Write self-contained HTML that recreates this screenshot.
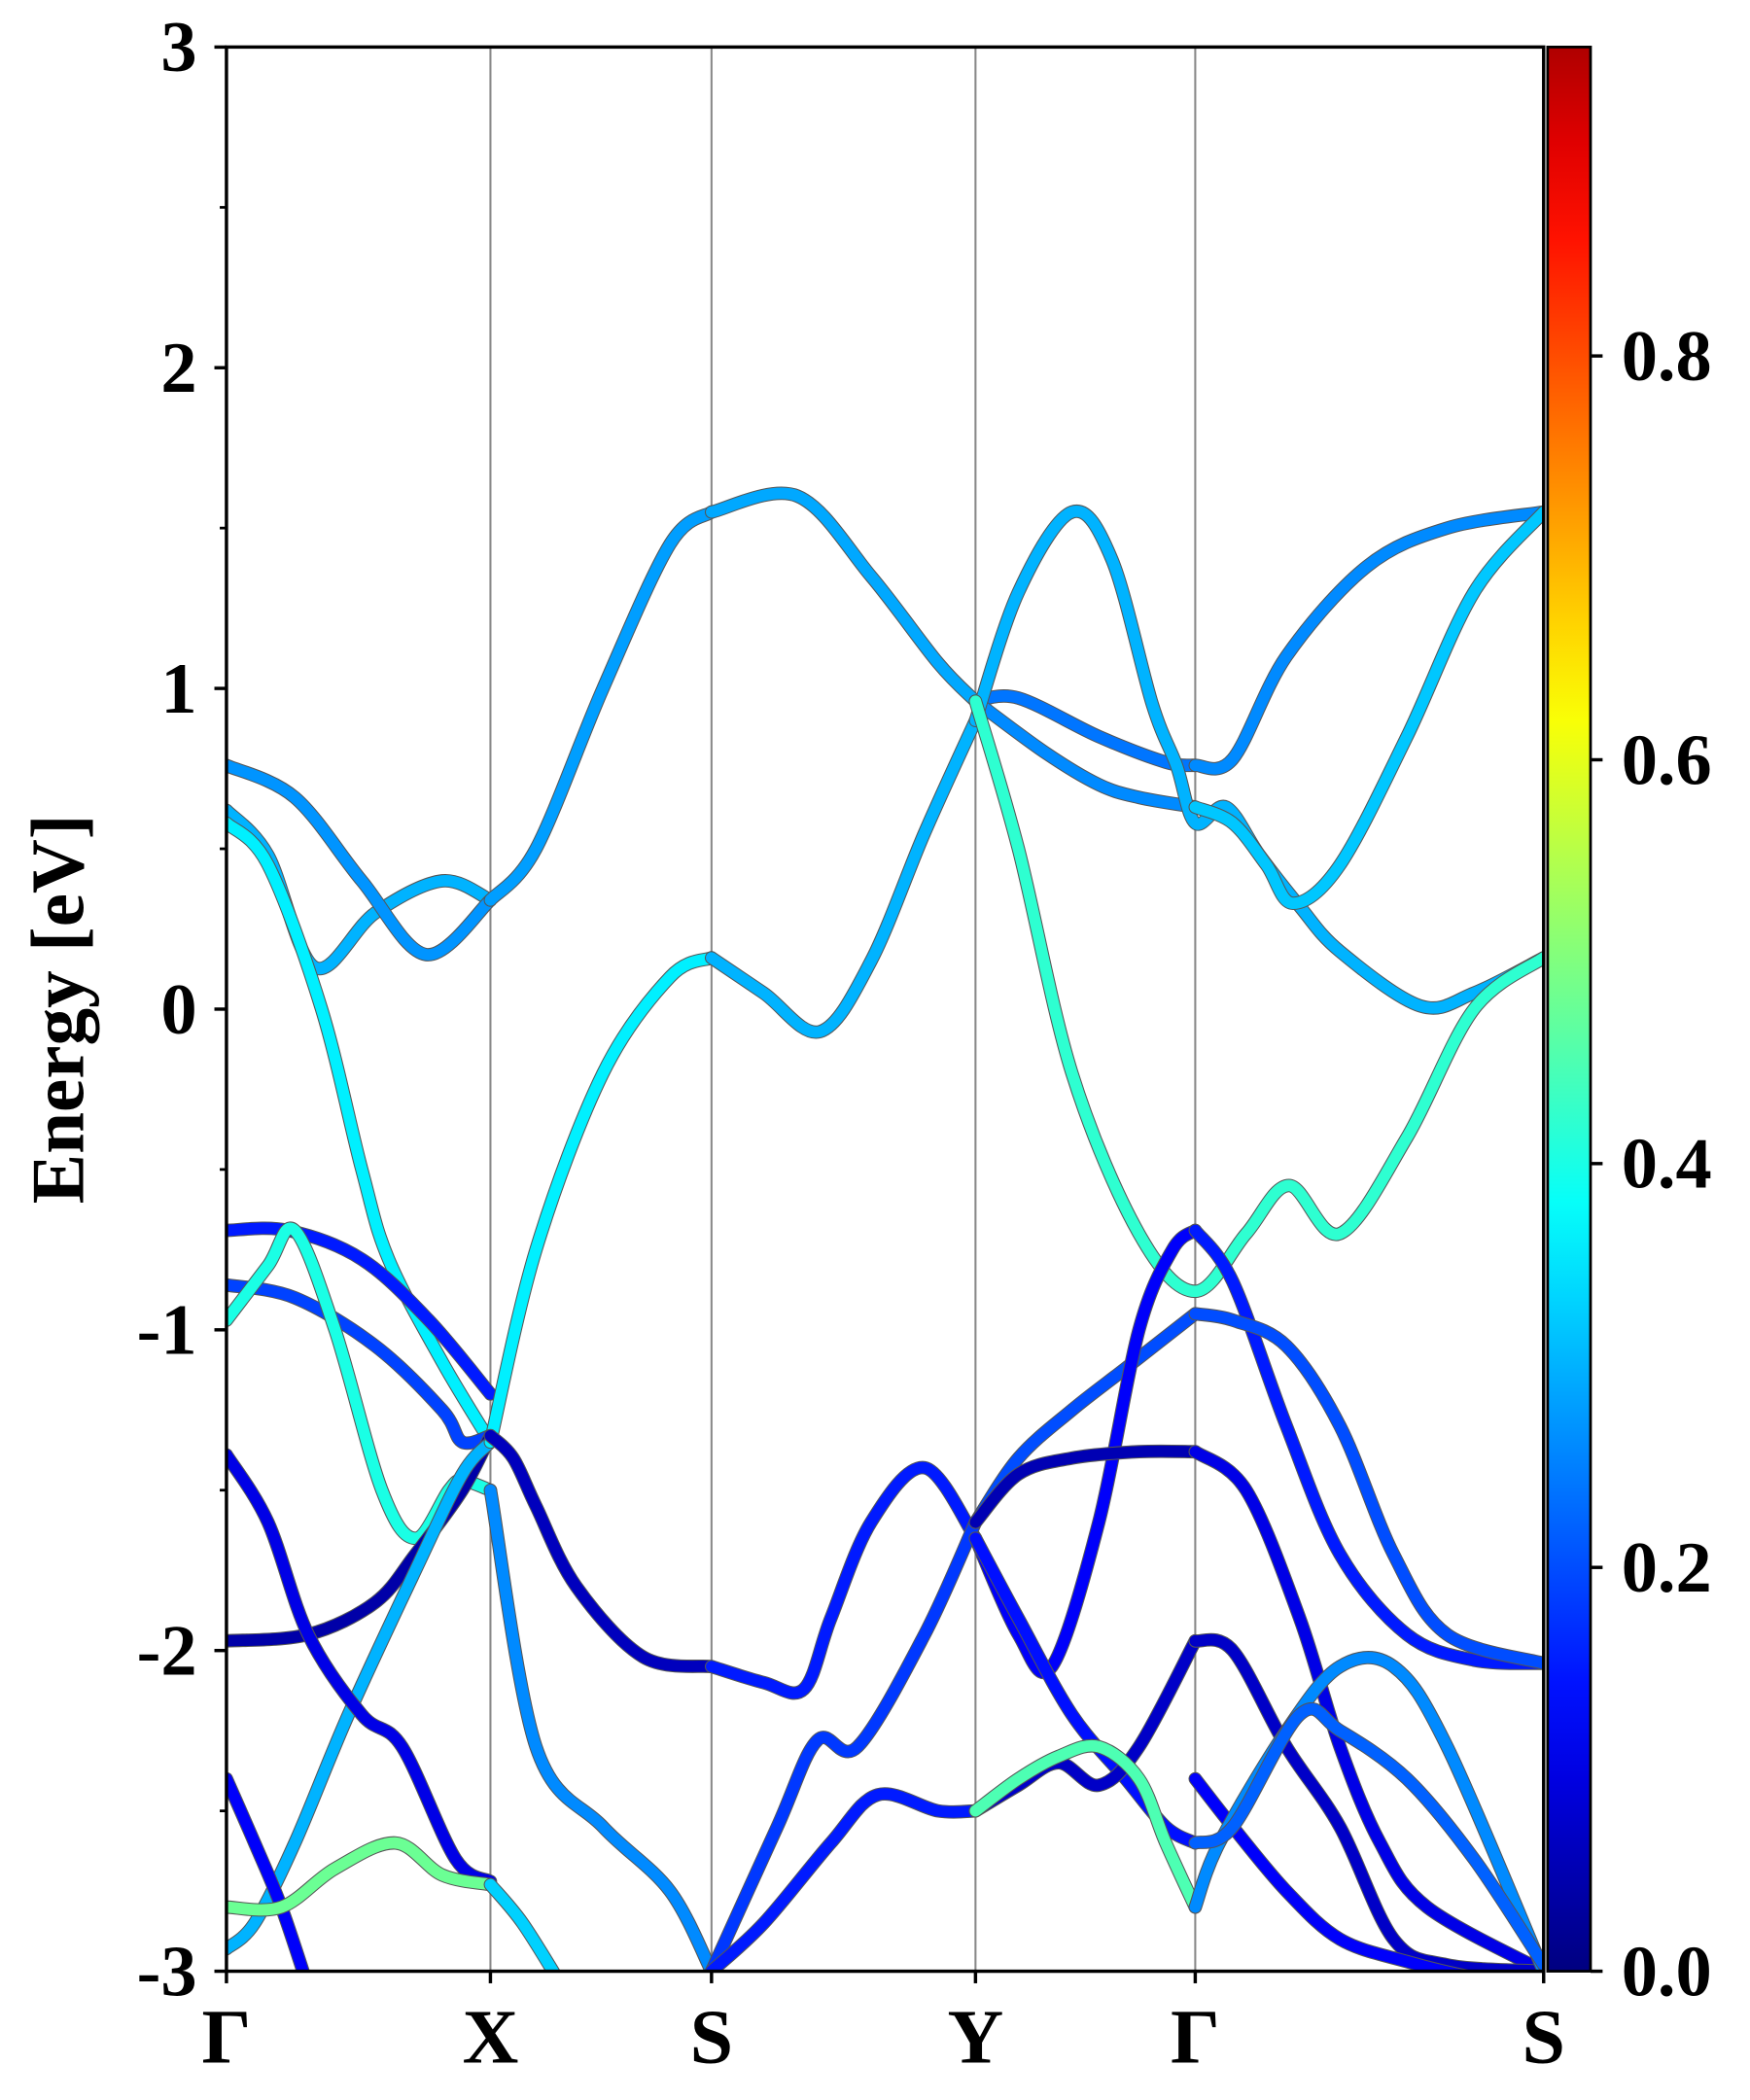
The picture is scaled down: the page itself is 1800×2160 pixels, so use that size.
<!DOCTYPE html>
<html><head><meta charset="utf-8">
<style>
html,body{margin:0;padding:0;background:#fff;}
svg{display:block;}
text{font-family:"Liberation Serif","Times New Roman",serif;font-weight:bold;fill:#000;}
</style></head>
<body>
<svg id="chart" width="1800" height="2160" viewBox="0 0 1306 1567" xmlns="http://www.w3.org/2000/svg">
<defs>
<clipPath id="plotclip"><rect x="169" y="35" width="983" height="1436"/></clipPath>
<linearGradient id="jetgrad" x1="0" y1="1" x2="0" y2="0"></linearGradient>
</defs>
<g id="vlines"></g>
<g id="bands" clip-path="url(#plotclip)"></g>
<rect x="169" y="35" width="983" height="1436" fill="none" stroke="#000" stroke-width="2.5"/>
<g id="yaxis"></g>
<g id="xaxis"></g>
<text transform="translate(62,753) rotate(-90)" text-anchor="middle" font-size="56">Energy [eV]</text>
<rect x="1155" y="35" width="32" height="1436" fill="url(#jetgrad)" stroke="#000" stroke-width="2"/>
<g id="cbaxis"></g>
</svg>
<script>
const kLabels = ["Γ","X","S","Y","Γ","S"];
const kTicks = [0,197,362,559,723,983];
const yTicks = [3,2,1,0,-1,-2,-3];
const cbTicks = [0.0,0.2,0.4,0.6,0.8];
const cbMax = 0.953;

const curveK = [
 [0,31,66,111,161,197],
 [0,51,101,149,197],
 [0,31,71,101,121,161,197],
 [0,46,101,151,197],
 [0,51,111,161,176,197],
 [0,31,51,81,116,141,166,176,197],
 [0,61,111,141,176,197],
 [0,21,51,91,141,176,197],
 [0,31,61,101,131,171,197],
 [0,21,41,61],
 [0,41,81,126,161,197],
 [197,231,281,331,362],
 [197,231,281,331,362],
 [197,214,231,261,311,362],
 [197,231,281,331,362],
 [197,221,251],
 [362,426,481,531,559],
 [362,401,443,481,521,559],
 [362,401,431,451,481,521,559],
 [362,411,441,471,521,559],
 [362,401,451,486,531,559],
 [559,591,651,701,723],
 [559,611,651,681,723],
 [559,591,631,661,691,709,723,746,771,801,831,891,931,983],
 [559,591,631,681,723,761,793,831,881,931,983],
 [559,591,631,671,723],
 [559,591,616,651,681,706,723],
 [559,591,631,681,723],
 [559,591,631,671,701,723],
 [559,591,621,651,681,723],
 [559,591,621,651,681,701,723],
 [723,751,791,851,911,983],
 [723,751,776,796,831,881,931,983],
 [723,751,791,831,881,931,983],
 [723,751,791,831,871,911,983],
 [723,761,801,831,861,896,983],
 [723,751,791,831,871,911,983],
 [723,751,791,831,881,931,983],
 [723,741,791,831,871,911,983],
 [723,751,801,831,881,931,983]
];
const curveE = [
 [0.62,0.48,0.13,0.30,0.40,0.34],
 [0.76,0.66,0.40,0.17,0.34],
 [0.58,0.45,0.00,-0.50,-0.78,-1.10,-1.35],
 [-0.69,-0.69,-0.78,-0.97,-1.20],
 [-0.86,-0.90,-1.05,-1.25,-1.35,-1.33],
 [-0.97,-0.80,-0.69,-1.00,-1.50,-1.65,-1.50,-1.47,-1.50],
 [-1.97,-1.95,-1.85,-1.70,-1.50,-1.33],
 [-2.93,-2.85,-2.60,-2.20,-1.75,-1.45,-1.35],
 [-1.39,-1.60,-1.95,-2.20,-2.30,-2.65,-2.72],
 [-2.40,-2.60,-2.80,-3.05],
 [-2.80,-2.80,-2.68,-2.60,-2.70,-2.73],
 [0.34,0.50,1.00,1.45,1.55],
 [-1.35,-0.75,-0.20,0.10,0.16],
 [-1.33,-1.40,-1.55,-1.80,-2.02,-2.05],
 [-1.50,-2.30,-2.55,-2.75,-3.00],
 [-2.73,-2.85,-3.05],
 [1.55,1.60,1.35,1.08,0.96],
 [0.16,0.05,-0.07,0.15,0.55,0.90],
 [-2.05,-2.10,-2.12,-1.90,-1.60,-1.43,-1.65],
 [-3.00,-2.55,-2.28,-2.30,-1.95,-1.60],
 [-3.00,-2.85,-2.60,-2.45,-2.50,-2.50],
 [0.96,0.97,0.85,0.77,0.76],
 [0.96,0.80,0.70,0.66,0.63],
 [0.90,1.30,1.55,1.40,0.95,0.76,0.58,0.63,0.48,0.32,0.18,0.01,0.05,0.16],
 [0.96,0.50,-0.20,-0.70,-0.88,-0.70,-0.55,-0.70,-0.40,0.00,0.16],
 [-1.60,-1.40,-1.25,-1.12,-0.95],
 [-1.65,-1.95,-2.05,-1.60,-1.00,-0.75,-0.69],
 [-1.60,-1.45,-1.40,-1.38,-1.38],
 [-1.65,-1.90,-2.20,-2.40,-2.55,-2.60],
 [-2.50,-2.42,-2.35,-2.42,-2.30,-1.97],
 [-2.50,-2.40,-2.33,-2.30,-2.40,-2.60,-2.80],
 [0.76,0.78,1.10,1.38,1.50,1.55],
 [0.63,0.58,0.45,0.33,0.45,0.85,1.30,1.55],
 [-0.69,-0.85,-1.30,-1.70,-1.95,-2.03,-2.04],
 [-0.95,-0.97,-1.05,-1.30,-1.70,-1.95,-2.04],
 [-1.38,-1.50,-1.90,-2.30,-2.60,-2.80,-3.00],
 [-1.97,-2.00,-2.30,-2.55,-2.90,-2.98,-3.00],
 [-2.40,-2.55,-2.75,-2.90,-2.97,-3.02,-3.05],
 [-2.80,-2.60,-2.25,-2.05,-2.05,-2.30,-3.00],
 [-2.60,-2.55,-2.20,-2.25,-2.40,-2.65,-2.98]
];
const curveW = [0.30,0.27,0.36,0.15,0.19,0.40,0.04,0.30,0.10,0.12,0.48,0.28,0.36,0.06,0.26,0.33,0.29,0.30,0.15,0.18,0.15,0.24,0.26,0.30,0.42,0.20,0.12,0.05,0.14,0.07,0.45,0.26,0.32,0.15,0.20,0.10,0.07,0.12,0.26,0.22];

const X0=169, X1=1152, Y0=35, Y1=1471, KMAX=983, EMIN=-3, EMAX=3;
const xs = k => X0 + (k/KMAX)*(X1-X0);
const ys = e => Y1 - (e-EMIN)/(EMAX-EMIN)*(Y1-Y0);
const NS="http://www.w3.org/2000/svg";

function jet(v){
  const c=x=>Math.max(0,Math.min(1,x));
  const r=c(1.5-Math.abs(4*v-3)), g=c(1.5-Math.abs(4*v-2)), b=c(1.5-Math.abs(4*v-1));
  return `rgb(${Math.round(r*255)},${Math.round(g*255)},${Math.round(b*255)})`;
}
function mk(tag,attrs,parent){const el=document.createElementNS(NS,tag);for(const a in attrs)el.setAttribute(a,attrs[a]);parent.appendChild(el);return el;}

const grad=document.getElementById('jetgrad');
for(let i=0;i<=20;i++){mk('stop',{offset:(i/20),'stop-color':jet(i/20*cbMax)},grad);}

const vl=document.getElementById('vlines');
kTicks.slice(1,-1).forEach(k=>{
  const l=mk('line',{x1:xs(k),x2:xs(k),y1:Y0,y2:Y1,stroke:'#888','stroke-width':1.5},vl);
  
  
});

const bg=document.getElementById('bands');
function smoothPath(px,py){
  let d=`M${px[0]},${py[0]}`;
  for(let i=0;i<px.length-1;i++){
    const p0=i>0?i-1:i, p3=i+2<px.length?i+2:i+1;
    const c1x=px[i]+(px[i+1]-px[p0])/6, c1y=py[i]+(py[i+1]-py[p0])/6;
    const c2x=px[i+1]-(px[p3]-px[i])/6, c2y=py[i+1]-(py[p3]-py[i])/6;
    d+=` C${c1x},${c1y} ${c2x},${c2y} ${px[i+1]},${py[i+1]}`;
  }
  return d;
}
curveK.forEach((ks,ci)=>{
  const es=curveE[ci];
  if(!es) return;
  const n=Math.min(ks.length,es.length);
  const px=ks.slice(0,n).map(xs), py=es.slice(0,n).map(ys);
  const d=smoothPath(px,py);
  const o=mk('path',{d:d,fill:'none',stroke:'#555','stroke-width':10,'stroke-linecap':'round'},bg);
  
  
  const p=mk('path',{d:d,fill:'none',stroke:jet(curveW[ci]||0.3),'stroke-width':8.5,'stroke-linecap':'round'},bg);
  
  
});

const ya=document.getElementById('yaxis');
yTicks.forEach(v=>{
  const t=mk('line',{x1:X0-9,x2:X0,y1:ys(v),y2:ys(v),stroke:'#000','stroke-width':2.5},ya);
  
  
  const tx=mk('text',{x:X0-22,y:ys(v)+18,'text-anchor':'end','font-size':54},ya);
  tx.textContent=String(v);
  
  
});
for(let v=-2.5;v<3;v+=1){
  const t=mk('line',{x1:X0-5,x2:X0,y1:ys(v),y2:ys(v),stroke:'#000','stroke-width':2},ya);
  
  
}
const xa=document.getElementById('xaxis');
kTicks.forEach((k,i)=>{
  const t=mk('line',{x1:xs(k),x2:xs(k),y1:Y1,y2:Y1+9,stroke:'#000','stroke-width':2.5},xa);
  
  
  const tx=mk('text',{x:xs(k),y:Y1+68,'text-anchor':'middle','font-size':58},xa);
  tx.textContent=kLabels[i];
  
  
});
const cb=document.getElementById('cbaxis');
cbTicks.forEach(v=>{
  const y=Y1-(v/cbMax)*(Y1-Y0);
  const t=mk('line',{x1:1187,x2:1196,y1:y,y2:y,stroke:'#000','stroke-width':2.5},cb);
  
  
  const tx=mk('text',{x:1210,y:y+18,'font-size':54},cb);
  tx.textContent=v.toFixed(1);
  
  
});
</script>
</body></html>
